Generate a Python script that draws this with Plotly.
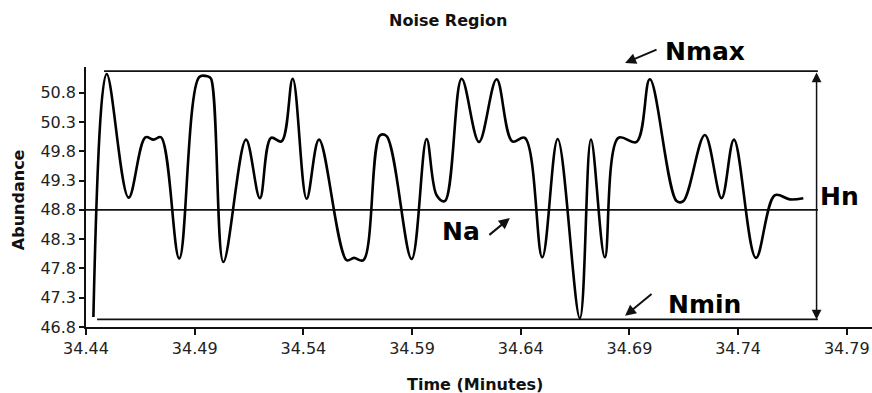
import plotly.graph_objects as go

# Chromatogram noise trace (time in minutes, abundance)
time_min = [34.4434, 34.4495, 34.4596, 34.4673, 34.4711, 34.4745, 34.4829, 34.4921, 34.4960, 34.4975,
            34.5032, 34.5136, 34.5200, 34.5251, 34.5300, 34.5351, 34.5415, 34.5472, 34.5599, 34.5633,
            34.5676, 34.5752, 34.5783, 34.5898, 34.5967, 34.6013, 34.6051, 34.6128, 34.6208, 34.6289,
            34.6361, 34.6419, 34.6499, 34.6570, 34.6672, 34.6723, 34.6787, 34.6849, 34.6933, 34.6994,
            34.7117, 34.7148, 34.7247, 34.7324, 34.7381, 34.7482, 34.7569, 34.7638, 34.7700]
abundance = [46.97, 51.12, 49.01, 50.04, 50.00, 50.04, 47.97, 51.07, 51.08, 51.04,
             47.91, 50.00, 49.00, 50.03, 49.97, 51.04, 48.99, 50.00, 47.94, 47.98,
             47.94, 50.07, 50.06, 47.96, 50.01, 49.05, 48.95, 51.04, 49.96, 51.03,
             49.97, 50.03, 47.99, 50.01, 46.95, 50.00, 47.99, 50.03, 49.96, 51.03,
             48.95, 48.95, 50.08, 49.00, 50.00, 47.98, 49.05, 48.98, 49.00]

# Reference levels
N_MAX = 51.17
N_MIN = 46.93
N_A = 48.8
ref_x_start_max = 34.4483
ref_x_start_min = 34.4451
ref_x_start_na = 34.44
ref_x_end = 34.7767
hn_x = 34.7761

x_ticks = [34.44, 34.49, 34.54, 34.59, 34.64, 34.69, 34.74, 34.79]
y_ticks = [46.8, 47.3, 47.8, 48.3, 48.8, 49.3, 49.8, 50.3, 50.8]

FONT = "DejaVu Sans"

fig = go.Figure()

line_style = dict(color="#111111", width=1.6)
fig.add_trace(go.Scatter(x=[ref_x_start_max, ref_x_end], y=[N_MAX, N_MAX], mode="lines",
                         line=line_style, hoverinfo="skip", showlegend=False))
fig.add_trace(go.Scatter(x=[ref_x_start_min, ref_x_end], y=[N_MIN, N_MIN], mode="lines",
                         line=line_style, hoverinfo="skip", showlegend=False))
fig.add_trace(go.Scatter(x=[ref_x_start_na, ref_x_end], y=[N_A, N_A], mode="lines",
                         line=line_style, hoverinfo="skip", showlegend=False))

fig.add_trace(go.Scatter(x=time_min, y=abundance, mode="lines",
                         line=dict(color="#000000", width=2.6, shape="spline", smoothing=1.0),
                         showlegend=False))

annotations = []
# Double-headed vertical Hn arrow
annotations.append(dict(x=hn_x, y=N_MIN, ax=hn_x, ay=N_MAX, xref="x", yref="y", axref="x", ayref="y",
                        text="", showarrow=True, arrowside="end+start", arrowhead=2, startarrowhead=2,
                        arrowsize=1.3, startarrowsize=1.3, arrowwidth=1.5, arrowcolor="#111111"))
# Small pointer arrows
annotations.append(dict(x=0.6858, y=1.0154, ax=33, ay=-14, xref="paper", yref="paper", text="",
                        showarrow=True, arrowhead=2, arrowsize=1.1, arrowwidth=2, arrowcolor="#111111"))
annotations.append(dict(x=34.688, y=46.99, ax=28, ay=-23, xref="x", yref="y", text="", showarrow=True,
                        arrowhead=2, arrowsize=1.1, arrowwidth=2, arrowcolor="#111111"))
annotations.append(dict(x=34.635, y=48.66, ax=-22, ay=18, xref="x", yref="y", text="", showarrow=True,
                        arrowhead=2, arrowsize=1.1, arrowwidth=2, arrowcolor="#111111"))
# Labels
big = dict(family=FONT, size=25, color="#000000")
c = dict(xanchor="center", yanchor="middle", showarrow=False)
annotations.append(dict(x=0.7875, y=1.0577, xref="paper", yref="paper", text="<b>Nmax</b>", font=big, **c))
annotations.append(dict(x=34.7247, y=47.19, xref="x", yref="y", text="<b>Nmin</b>", font=big, **c))
annotations.append(dict(x=34.7868, y=49.035, xref="x", yref="y", text="<b>Hn</b>", font=big, **c))
annotations.append(dict(x=34.6125, y=48.438, xref="x", yref="y", text="<b>Na</b>", font=big, **c))
# Axis titles
annotations.append(dict(x=0.495, y=-0.223, xref="paper", yref="paper", text="<b>Time (Minutes)</b>",
                        font=dict(family=FONT, size=16, color="#111111"), **c))
annotations.append(dict(x=-0.0865, y=0.488, xref="paper", yref="paper", text="<b>Abundance</b>",
                        textangle=-90, font=dict(family=FONT, size=16, color="#111111"), **c))

fig.update_layout(
    width=872, height=393,
    margin=dict(l=86, r=0, t=67, b=66, autoexpand=False),
    paper_bgcolor="white", plot_bgcolor="white",
    title=dict(text="<b>Noise Region</b>", x=0.514, xanchor="center", y=0.948, yanchor="middle",
               font=dict(family=FONT, size=16, color="#111111")),
    annotations=annotations,
    showlegend=False,
)
fig.update_xaxes(range=[34.44, 34.8016], tickvals=x_ticks, ticktext=[f"{v:.2f}" for v in x_ticks],
                 showgrid=False, zeroline=False, showline=True, linecolor="#111111", linewidth=1.6,
                 ticks="outside", ticklen=6, tickwidth=1.5, tickcolor="#111111",
                 tickfont=dict(family=FONT, size=16, color="#222222"))
fig.update_yaxes(range=[46.8, 51.24], tickvals=y_ticks, ticktext=[f"{v:.1f}" for v in y_ticks],
                 showgrid=False, zeroline=False, showline=True, linecolor="#111111", linewidth=1.6,
                 ticks="outside", ticklen=5, tickwidth=1.5, tickcolor="#111111",
                 tickfont=dict(family=FONT, size=16, color="#222222"))

fig.write_html("out.html", config={"displayModeBar": False},
               post_script="document.body.style.margin='0';document.body.style.overflow='hidden';")
